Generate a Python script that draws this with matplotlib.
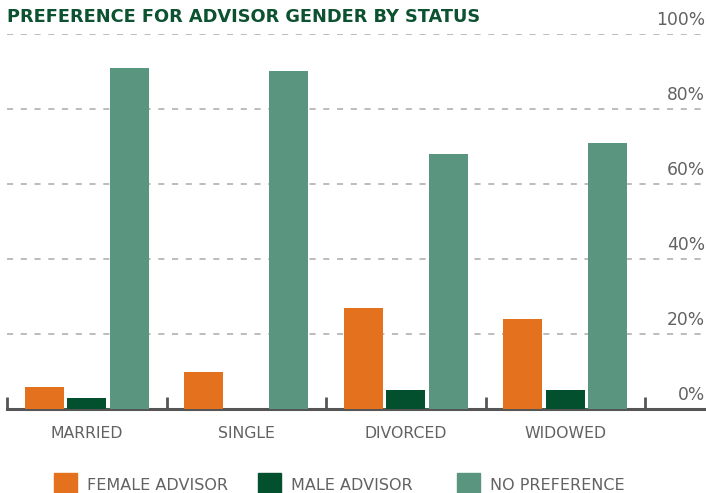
import numpy as np
import matplotlib.pyplot as plt
from matplotlib.patches import Rectangle
from matplotlib.transforms import blended_transform_factory

# -------------------------------
# Datos
# -------------------------------
status = ["MARRIED", "SINGLE", "DIVORCED", "WIDOWED"]
female = [6, 10, 27, 24]
male = [3, 0, 5, 5]
no_pref = [91, 90, 68, 71]
series_names = ["FEMALE ADVISOR", "MALE ADVISOR", "NO PREFERENCE"]
y_ticks = [0, 20, 40, 60, 80, 100]

colors = ["#E3711E", "#02502E", "#5A9580"]
title_color = "#0C5130"
text_gray = "#626262"
label_font = "DejaVu Sans"

W, H = 706, 493
fig = plt.figure(figsize=(W / 100, H / 100), dpi=100)

# ejes en pixeles
x0, x1 = 7, 706
y0, y1 = 409, 34
ax = fig.add_axes([x0 / W, (H - y0) / H, (x1 - x0) / W, (y0 - y1) / H])

group_px = 159.5
ax.set_xlim(0, (x1 - x0) / group_px)
ax.set_ylim(0, 100)

bw = 0.245
step = 0.266
x = np.arange(len(status)) + 0.5
for k, vals in enumerate([female, male, no_pref]):
    ax.bar(x + (k - 1) * step, vals, width=bw, color=colors[k], zorder=3)

# grilla punteada
for v in y_ticks[1:]:
    ax.axhline(v, color="#AAAAAA", lw=1.1, linestyle=(0, (4, 5)), zorder=1)

for s in ["top", "right", "left"]:
    ax.spines[s].set_visible(False)
ax.spines["bottom"].set_color("#555555")
ax.spines["bottom"].set_linewidth(2.2)

ax.set_xticks(np.arange(len(status) + 1))
ax.set_xticklabels([])
ax.tick_params(axis="x", direction="in", length=9, width=2, color="#555555")
ax.set_yticks([])

# etiquetas de categorias
for xi, name in zip(x, status):
    ax.text(xi, -6.5, name, ha="center", va="center", fontsize=11.3,
            color=text_gray, family=label_font)

# etiquetas eje y a la derecha, sobre la linea
trans = blended_transform_factory(fig.transFigure, ax.transData)
for v in y_ticks:
    ax.text(705 / W, v + 1.3, f"{v}%", transform=trans, ha="right",
            va="bottom", fontsize=12.3, color=text_gray, family=label_font)

fig.text(7 / W, 1 - 17 / H, "PREFERENCE FOR ADVISOR GENDER BY STATUS",
         ha="left", va="center", fontsize=12.8, fontweight="bold",
         color=title_color, family="DejaVu Sans")

# leyenda manual
leg_x = [54, 258, 457]
for k, name in enumerate(series_names):
    fig.patches.append(Rectangle((leg_x[k] / W, 0), 23 / W, 20 / H,
                                 transform=fig.transFigure,
                                 color=colors[k]))
    fig.text((leg_x[k] + 33) / W, 1 - 486 / H, name, ha="left",
             va="center", fontsize=11.5, color=text_gray, family=label_font)

fig.savefig("out.png", dpi=100)
